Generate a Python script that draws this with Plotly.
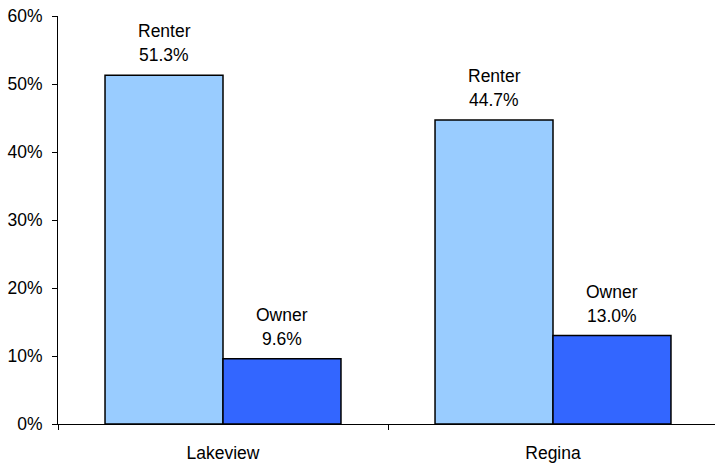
import plotly.graph_objects as go

categories = ["Lakeview", "Regina"]
series_names = ["Renter", "Owner"]
renter_values = [51.3, 44.7]
owner_values = [9.6, 13.0]
y_ticks = [0, 10, 20, 30, 40, 50, 60]

colors = {"Renter": "#99CCFF", "Owner": "#3366FF"}
FONT = "Liberation Sans, Arial, sans-serif"
FS = 17.5

fig = go.Figure()
for name, vals in zip(series_names, [renter_values, owner_values]):
    fig.add_trace(go.Bar(
        x=categories, y=vals, name=name,
        marker=dict(color=colors[name], line=dict(color="#000000", width=1.5)),
        hoverinfo="skip",
    ))

# labels above bars
shifts = {"Renter": -59, "Owner": 59}
for name, vals in zip(series_names, [renter_values, owner_values]):
    for cat, v in zip(categories, vals):
        fig.add_annotation(x=cat, y=v, xref="x", yref="y", text=f"{v:.1f}%",
                           showarrow=False, xshift=shifts[name], yshift=20,
                           yanchor="middle", font=dict(size=FS, color="#000", family=FONT))
        fig.add_annotation(x=cat, y=v, xref="x", yref="y", text=name,
                           showarrow=False, xshift=shifts[name], yshift=44,
                           yanchor="middle", font=dict(size=FS, color="#000", family=FONT))

fig.update_layout(
    width=715, height=466,
    margin=dict(l=58, r=0, t=16, b=42),
    paper_bgcolor="white", plot_bgcolor="white",
    barmode="group", bargap=0.285, bargroupgap=0,
    showlegend=False,
    font=dict(family=FONT, size=FS, color="#000"),
    xaxis=dict(
        type="category", range=[-0.5, -0.5 + 657 / 330],
        tickson="boundaries", ticks="outside", ticklen=5, tickcolor="#000",
        showline=True, linecolor="#000", linewidth=1, showgrid=False,
        tickfont=dict(size=FS, family=FONT, color="#000"),
        ticklabelstandoff=13, fixedrange=True, automargin=False,
    ),
    yaxis=dict(
        range=[0, 60], tickvals=y_ticks, ticktext=[f"{t}%" for t in y_ticks],
        ticks="outside", ticklen=5, tickcolor="#000",
        showline=True, linecolor="#000", linewidth=1, showgrid=False,
        zeroline=False,
        tickfont=dict(size=FS, family=FONT, color="#000"),
        ticklabelstandoff=6, fixedrange=True, automargin=False,
        ticklabeloverflow="allow",
    ),
)

fig.write_html("out.html", post_script="document.body.style.margin='0';",
               config={"displayModeBar": False})
